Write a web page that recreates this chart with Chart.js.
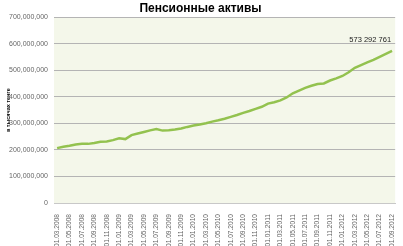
<!DOCTYPE html>
<html lang="ru">
<head>
<meta charset="UTF-8">
<title>Пенсионные активы</title>
<script src="https://cdn.jsdelivr.net/npm/chart.js@4.4.0/dist/chart.umd.min.js"></script>
<style>
  html, body { margin: 0; padding: 0; background: #fff; }
  #wrap { width: 403px; height: 246px; }
</style>
</head>
<body>
<div id="wrap"><canvas id="chart"></canvas></div>
<script>
// monthly dates, 01.03.2008 .. 01.09.2012
const months = [
  '01.03.2008','01.04.2008','01.05.2008','01.06.2008','01.07.2008','01.08.2008','01.09.2008','01.10.2008','01.11.2008','01.12.2008',
  '01.01.2009','01.02.2009','01.03.2009','01.04.2009','01.05.2009','01.06.2009','01.07.2009','01.08.2009','01.09.2009','01.10.2009','01.11.2009','01.12.2009',
  '01.01.2010','01.02.2010','01.03.2010','01.04.2010','01.05.2010','01.06.2010','01.07.2010','01.08.2010','01.09.2010','01.10.2010','01.11.2010','01.12.2010',
  '01.01.2011','01.02.2011','01.03.2011','01.04.2011','01.05.2011','01.06.2011','01.07.2011','01.08.2011','01.09.2011','01.10.2011','01.11.2011','01.12.2011',
  '01.01.2012','01.02.2012','01.03.2012','01.04.2012','01.05.2012','01.06.2012','01.07.2012','01.08.2012','01.09.2012'
];

// pension assets, thousand tenge
const assets = [
  207e6, 212e6, 216e6, 221e6, 223e6, 223e6, 226e6, 231e6, 232e6, 237e6,
  244e6, 241e6, 256e6, 262e6, 268e6, 274e6, 279e6, 273e6, 274e6, 277e6, 281e6, 287e6,
  292e6, 296e6, 301e6, 307e6, 312e6, 318e6, 325e6, 332e6, 340e6, 347e6, 355e6, 363e6,
  375e6, 380e6, 387e6, 398e6, 414e6, 424e6, 434e6, 442e6, 449e6, 451e6, 462e6, 470e6,
  479e6, 493e6, 510e6, 520e6, 530e6, 540e6, 551e6, 562e6, 573292761
];

const yTicks = [0, 100e6, 200e6, 300e6, 400e6, 500e6, 600e6, 700e6];

const plotBg = {
  id: 'plotBg',
  beforeDraw(chart) {
    const { ctx, chartArea: a } = chart;
    ctx.save();
    ctx.fillStyle = '#f4f7ea';
    ctx.fillRect(a.left, a.top, a.right - a.left, a.bottom - a.top);
    ctx.restore();
  }
};

const lastLabel = {
  id: 'lastLabel',
  afterDatasetsDraw(chart) {
    const pts = chart.getDatasetMeta(0).data;
    const p = pts[pts.length - 1];
    const v = assets[assets.length - 1];
    const txt = String(Math.round(v)).replace(/\B(?=(\d{3})+(?!\d))/g, ' ');
    const ctx = chart.ctx;
    ctx.save();
    ctx.font = '7.5px Arial, "Liberation Sans", sans-serif';
    ctx.fillStyle = '#222';
    ctx.textAlign = 'right';
    ctx.textBaseline = 'alphabetic';
    ctx.fillText(txt, p.x - 1, p.y - 9);
    ctx.restore();
  }
};

new Chart(document.getElementById('chart'), {
  type: 'line',
  data: {
    labels: months,
    datasets: [{
      data: assets,
      borderColor: '#93c24f',
      borderWidth: 2.5,
      pointRadius: 0,
      tension: 0
    }]
  },
  plugins: [plotBg, lastLabel],
  options: {
    responsive: true,
    maintainAspectRatio: false,
    animation: false,
    layout: { padding: { left: 0, right: 2, top: 0, bottom: 0 } },
    plugins: {
      legend: { display: false },
      tooltip: { enabled: false },
      title: {
        display: true,
        text: 'Пенсионные активы',
        color: '#000',
        font: { family: 'Arial, "Liberation Sans", sans-serif', size: 12, weight: 'bold' },
        padding: { top: 1, bottom: 2 }
      }
    },
    scales: {
      x: {
        offset: true,
        grid: { display: false },
        border: { color: '#c8c8c8' },
        ticks: {
          autoSkip: false,
          maxRotation: 90,
          minRotation: 90,
          padding: 3,
          color: '#666',
          font: { family: 'Arial, "Liberation Sans", sans-serif', size: 6.6 },
          callback: (v, i) => i % 2 === 0 ? months[i] : ''
        },
        afterFit: s => { s.height = 43; }
      },
      y: {
        min: 0,
        max: 700e6,
        afterBuildTicks: s => { s.ticks = yTicks.map(v => ({ value: v })); },
        grid: { color: '#b4b4b4', lineWidth: 1, drawTicks: false },
        border: { display: false },
        ticks: {
          padding: 6,
          color: '#666',
          font: { family: 'Arial, "Liberation Sans", sans-serif', size: 7 },
          callback: v => v.toLocaleString('en-US')
        },
        title: {
          display: true,
          text: 'в тысячах тенге',
          color: '#000',
          font: { family: 'Arial, "Liberation Sans", sans-serif', size: 5.5, weight: 'bold' },
          padding: { top: 5, bottom: 0 }
        },
        afterFit: s => { s.width = 54; }
      }
    }
  }
});
</script>
</body>
</html>
